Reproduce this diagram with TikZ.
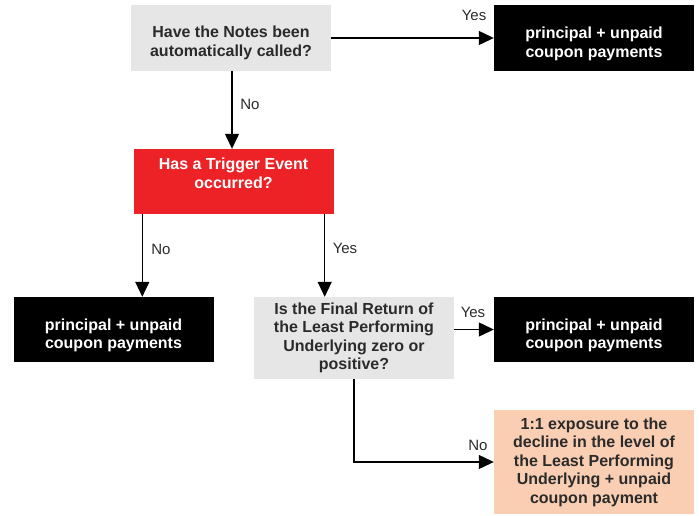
\documentclass[tikz,border=0pt]{standalone}
\usepackage{fontspec}
\setmainfont{Liberation Sans}
\usetikzlibrary{positioning}
\usetikzlibrary{arrows.meta}
\definecolor{qgray}{HTML}{E6E6E6}
\definecolor{trigred}{HTML}{EC2227}
\definecolor{peach}{HTML}{F9CEB3}
\definecolor{ink}{HTML}{2B2B2B}
\tikzset{
	every node/.style={align=center,inner sep=0pt},
	boxfont/.style={font=\fontsize{16}{18.5}\selectfont\bfseries},
	qbox/.style={fill=qgray,text=ink,minimum width=200pt,boxfont},
	paybox/.style={fill=black,minimum width=200pt,minimum height=65pt},
	paytext/.style={text=white,boxfont,yshift=-6pt},
	arr/.style={draw=black,line width=1.2pt,-{Triangle[length=15pt,width=14pt]}},
	lbl/.style={text=ink,font=\fontsize{15}{17}\selectfont},
}

\begin{document}
\begin{tikzpicture}[x=1pt,y=-1pt]
			\useasboundingbox (0,0) rectangle (699,515);
			
			% boxes.....................
			\node [qbox, minimum height=66pt, label={[boxfont,text=ink,yshift=-5pt]center:{Have the Notes been\\automatically called?}}] (notes) at (231,38) {};
			\node [paybox, minimum height=66pt, label={[paytext]center:{principal + unpaid\\coupon payments}}] (payA) at (594,38) {};
			\node [qbox, fill=trigred, minimum height=65pt, label={[boxfont,text=white,yshift=8pt]center:{Has a Trigger Event\\occurred?}}] (trigger) at (233.5,181.5) {};
			\node [paybox, label={[paytext]center:{principal + unpaid\\coupon payments}}] (payB) at (113.5,329.5) {};
			\node [qbox, minimum height=82pt] (final) at (354,338) {Is the Final Return of\\the Least Performing\\Underlying zero or\\positive?};
			\node [paybox, label={[paytext]center:{principal + unpaid\\coupon payments}}] (payC) at (594,329.5) {};
			\node [qbox, fill=peach, minimum height=104pt] (exposure) at (594,462) {1:1 exposure to the\\decline in the level of\\the Least Performing\\Underlying + unpaid\\coupon payment};
			
			% arrows......................
			\coordinate (noB) at ([xshift=9pt]trigger.south west);
			\coordinate (yesB) at ([xshift=-9pt]trigger.south east);
			\draw [arr] (notes.east) to (payA.west);
			\draw [arr] ([xshift=1pt]notes.south) to ([xshift=1pt]notes.south |- trigger.north);
			\draw [arr] (noB) to (noB |- payB.north);
			\draw [arr] (yesB) to (yesB |- final.north);
			\draw [arr] (final.east |- payC.west) to (payC.west);
			\draw [arr] (final.south) |- (exposure.west);
			
			% labels..............................
			\node [lbl] (yesA) at (474,15) {Yes};
			\node [lbl] (noA) at (250,104) {No};
			\node [lbl] (noBl) at (161,249) {No};
			\node [lbl] (yesBl) at (345,248) {Yes};
			\node [lbl] (yesC) at (473,312) {Yes};
			\node [lbl] (noD) at (478,445) {No};
		\end{tikzpicture}
\end{document}
